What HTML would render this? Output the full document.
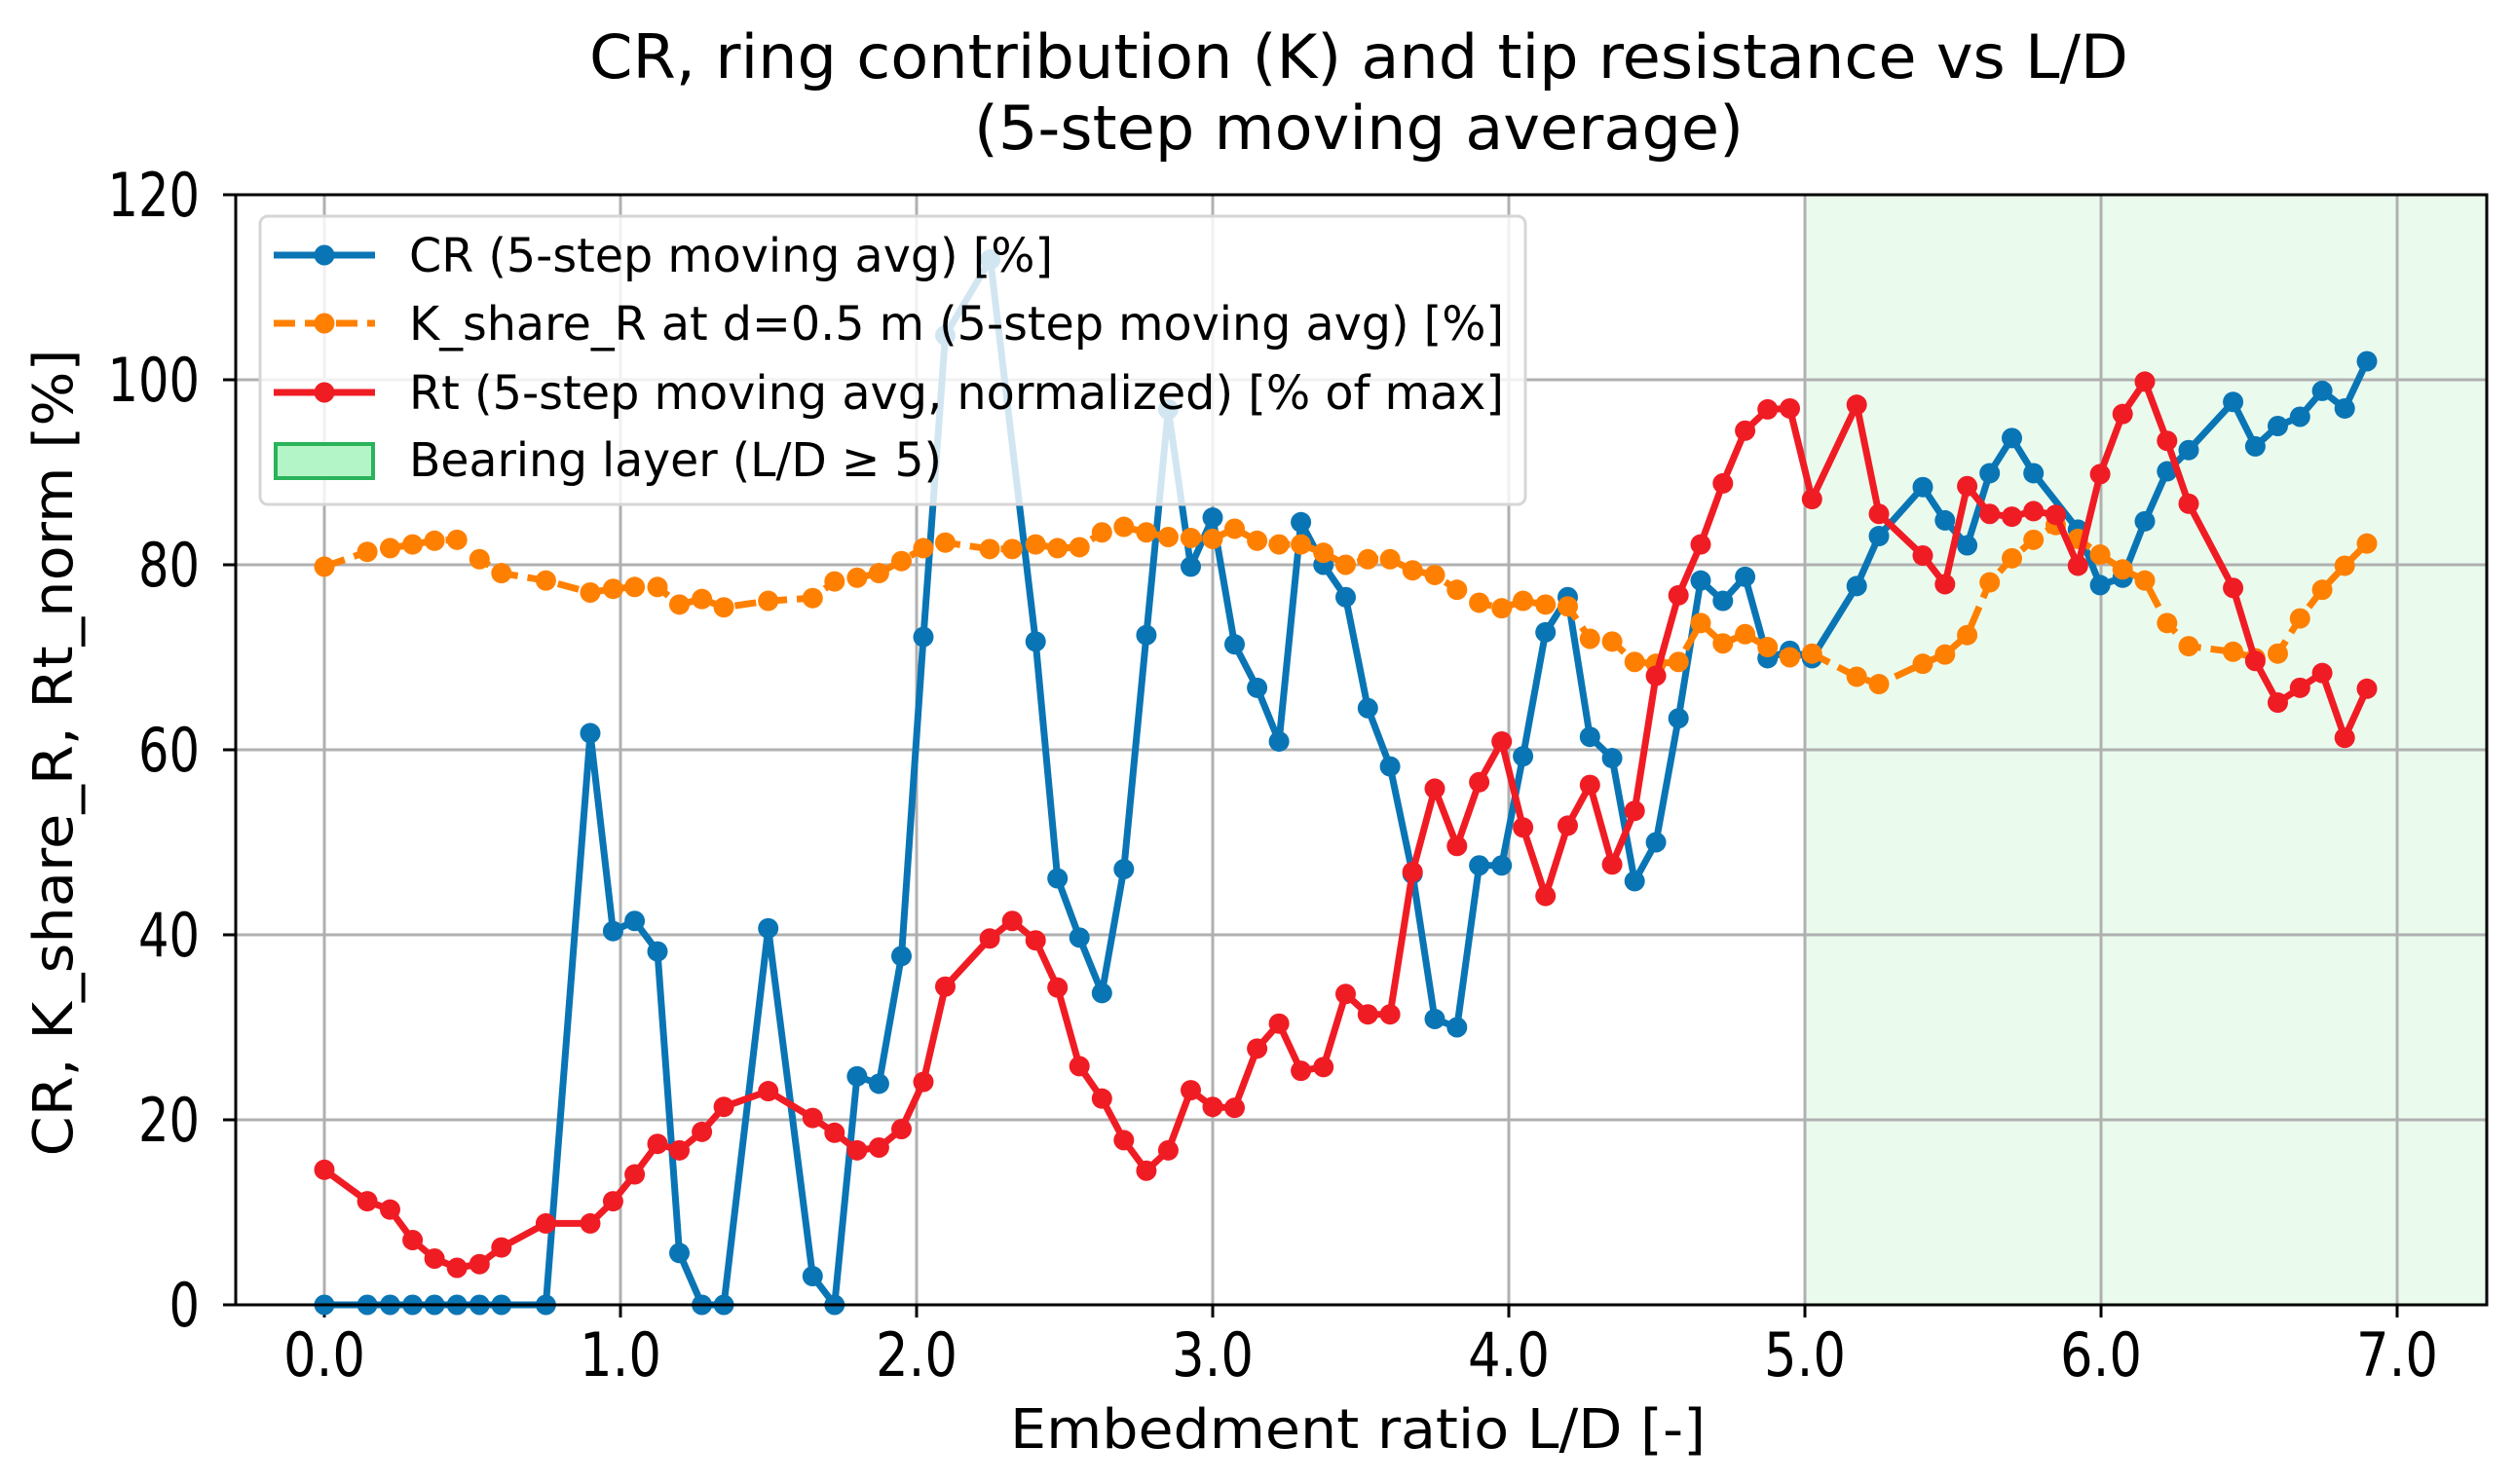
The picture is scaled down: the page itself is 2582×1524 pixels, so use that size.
<!DOCTYPE html>
<html><head><meta charset="utf-8"><style>
html,body{margin:0;padding:0;background:#fff;}
svg{display:block;font-family:"DejaVu Sans","Liberation Sans",sans-serif;}
</style></head><body>
<svg id="chart" width="2582" height="1524" viewBox="0 0 2582 1524"></svg>
<script>
const xTicks=[0,1,2,3,4,5,6,7];
const xTickLabels=["0.0","1.0","2.0","3.0","4.0","5.0","6.0","7.0"];
const yTicks=[0,20,40,60,80,100,120];
const yTickLabels=["0","20","40","60","80","100","120"];
const bearingStart=5;
const crX=[0,0.145,0.222,0.298,0.372,0.448,0.524,0.598,0.748,0.898,0.975,1.048,1.125,1.199,1.275,1.349,1.499,1.649,1.723,1.799,1.873,1.949,2.023,2.097,2.249,2.402,2.476,2.55,2.626,2.7,2.776,2.85,2.926,3.0,3.074,3.15,3.224,3.298,3.374,3.449,3.524,3.599,3.675,3.75,3.825,3.9,3.976,4.048,4.124,4.199,4.274,4.349,4.425,4.497,4.573,4.648,4.723,4.798,4.874,4.949,5.024,5.175,5.25,5.398,5.473,5.548,5.624,5.699,5.772,5.922,5.997,6.073,6.148,6.223,6.296,6.446,6.521,6.597,6.672,6.747,6.823,6.898];
const crY=[0,0,0,0,0,0,0,0,0,61.8,40.4,41.5,38.2,5.6,0,0,40.7,3.1,0,24.7,23.9,37.7,72.2,104.8,113,71.7,46.1,39.7,33.7,47.1,72.4,96.8,79.8,85.1,71.4,66.7,60.9,84.6,80,76.5,64.5,58.2,46.6,30.9,30.0,47.5,47.5,59.3,72.7,76.5,61.4,59.1,45.8,50,63.4,78.3,76.1,78.7,69.9,70.7,69.9,77.7,83.1,88.4,84.8,82.1,89.9,93.7,89.9,83.8,77.8,78.6,84.7,90.1,92.4,97.6,92.8,95,96,98.8,96.9,102];
const kX=[0,0.145,0.222,0.298,0.372,0.448,0.524,0.598,0.748,0.898,0.975,1.048,1.125,1.199,1.275,1.349,1.499,1.649,1.723,1.799,1.873,1.949,2.023,2.097,2.247,2.323,2.402,2.476,2.55,2.626,2.7,2.776,2.85,2.926,3.0,3.074,3.15,3.224,3.298,3.374,3.449,3.524,3.599,3.675,3.75,3.825,3.9,3.976,4.048,4.124,4.199,4.274,4.349,4.425,4.497,4.573,4.648,4.723,4.798,4.874,4.949,5.024,5.175,5.25,5.398,5.473,5.548,5.624,5.699,5.772,5.847,5.922,5.997,6.073,6.148,6.223,6.296,6.446,6.521,6.597,6.672,6.747,6.823,6.898];
const kY=[79.8,81.4,81.8,82.2,82.6,82.7,80.6,79.1,78.3,77,77.4,77.6,77.6,75.7,76.3,75.4,76.1,76.4,78.2,78.6,79.1,80.4,81.8,82.4,81.7,81.7,82.2,81.8,81.9,83.5,84.1,83.5,83,82.9,82.8,83.9,82.6,82.2,82.2,81.3,80,80.6,80.6,79.4,78.9,77.3,75.9,75.3,76.1,75.7,75.5,72,71.7,69.5,69.3,69.5,73.7,71.5,72.5,71.1,70,70.4,67.9,67.1,69.3,70.3,72.4,78.1,80.7,82.7,84.3,82.8,81.1,79.5,78.3,73.7,71.2,70.6,69.9,70.4,74.2,77.3,79.9,82.3];
const rtX=[0,0.145,0.222,0.298,0.372,0.448,0.524,0.598,0.748,0.898,0.975,1.048,1.125,1.199,1.275,1.349,1.499,1.649,1.723,1.799,1.873,1.949,2.023,2.097,2.247,2.323,2.402,2.476,2.55,2.626,2.7,2.776,2.85,2.926,3.0,3.074,3.15,3.224,3.298,3.374,3.449,3.524,3.599,3.675,3.75,3.825,3.9,3.976,4.048,4.124,4.199,4.274,4.349,4.425,4.497,4.573,4.648,4.723,4.798,4.874,4.949,5.024,5.175,5.25,5.398,5.473,5.548,5.624,5.699,5.772,5.847,5.922,5.997,6.073,6.148,6.223,6.296,6.446,6.521,6.597,6.672,6.747,6.823,6.898];
const rtY=[14.6,11.2,10.3,7,5,4,4.4,6.2,8.8,8.8,11.2,14.1,17.4,16.7,18.7,21.4,23.1,20.2,18.6,16.7,17,19,24.1,34.4,39.6,41.5,39.4,34.3,25.8,22.3,17.8,14.5,16.7,23.2,21.4,21.3,27.7,30.4,25.3,25.7,33.6,31.4,31.4,46.8,55.8,49.6,56.5,60.9,51.6,44.2,51.8,56.2,47.6,53.4,68,76.7,82.2,88.8,94.5,96.8,96.9,87.1,97.3,85.5,81,77.9,88.5,85.5,85.2,85.8,85.4,79.9,89.8,96.3,99.8,93.4,86.6,77.5,69.6,65.1,66.7,68.3,61.3,66.6];

const NS="http://www.w3.org/2000/svg";
const svg=document.getElementById('chart');
const L=242,R=2553,T=200,B=1340;
const X0=333,XU=304;
function sx(v){return X0+v*XU;}
function sy(v){return B-(v/120)*(B-T);}
function mk(tag,attrs,parent){const e=document.createElementNS(NS,tag);for(const k in attrs)e.setAttribute(k,attrs[k]);(parent||svg).appendChild(e);return e;}

const t1=mk('text',{x:1395,y:80,'font-size':62,'text-anchor':'middle',textLength:1580,lengthAdjust:'spacingAndGlyphs',fill:'#000'});
t1.textContent='CR, ring contribution (K) and tip resistance vs L/D';


const t2=mk('text',{x:1395,y:153,'font-size':62,'text-anchor':'middle',textLength:790,lengthAdjust:'spacingAndGlyphs',fill:'#000'});
t2.textContent='(5-step moving average)';



const shade=mk('rect',{x:sx(bearingStart),y:T,width:R-sx(bearingStart),height:B-T,fill:'#eafbee'});



xTicks.forEach((v,i)=>{
  const g=mk('line',{x1:sx(v),x2:sx(v),y1:T,y2:B,stroke:'#b0b0b0','stroke-width':3});
  
  
  const tk=mk('line',{x1:sx(v),x2:sx(v),y1:B,y2:B+13,stroke:'#000','stroke-width':3});
  
  
  const tl=mk('text',{x:sx(v),y:1413,'font-size':62,'text-anchor':'middle',textLength:84,lengthAdjust:'spacingAndGlyphs',fill:'#000'});
  tl.textContent=xTickLabels[i];
  
  
});
yTicks.forEach((v,i)=>{
  const g=mk('line',{x1:L,x2:R,y1:sy(v),y2:sy(v),stroke:'#b0b0b0','stroke-width':3});
  
  
  const tk=mk('line',{x1:L-13,x2:L,y1:sy(v),y2:sy(v),stroke:'#000','stroke-width':3});
  
  
  const lab=yTickLabels[i];
  const tl=mk('text',{x:205,y:sy(v)+22,'font-size':62,'text-anchor':'end',textLength:lab.length*31.5,lengthAdjust:'spacingAndGlyphs',fill:'#000'});
  tl.textContent=lab;
  
  
});

function series(xs,ys,color,dash,name){
  const g=mk('g',{});
  
  
  const pts=xs.map((x,i)=>sx(x).toFixed(1)+','+sy(ys[i]).toFixed(1)).join(' ');
  const attrs={points:pts,fill:'none',stroke:color,'stroke-width':7,'stroke-linejoin':'round'};
  if(dash)attrs['stroke-dasharray']=dash;
  const pl=mk('polyline',attrs,g);
  
  
  xs.forEach((x,i)=>{
    const c=mk('circle',{cx:sx(x),cy:sy(ys[i]),r:10.5,fill:color},g);
    
    
  });
}
series(crX,crY,'#0a75b5',null,'cr-series');
series(kX,kY,'#ff8000','22,10','k-share-series');
series(rtX,rtY,'#f01c24',null,'rt-series');

const fr=mk('rect',{x:L,y:T,width:R-L,height:B-T,fill:'none',stroke:'#000','stroke-width':3});



const lg=mk('g',{});


const lb=mk('rect',{x:267,y:222,width:1299,height:296,rx:8,fill:'#fff','fill-opacity':0.82,stroke:'#d6d6d6','stroke-width':3},lg);


const entries=[
  {y:262,c:'#0a75b5',d:null,t:'CR (5-step moving avg) [%]',w:661,n:'legend-entry-cr'},
  {y:332,c:'#ff8000',d:'22,10',t:'K_share_R at d=0.5 m (5-step moving avg) [%]',w:1124,n:'legend-entry-k-share'},
  {y:403,c:'#f01c24',d:null,t:'Rt (5-step moving avg, normalized) [% of max]',w:1124,n:'legend-entry-rt'}
];
entries.forEach(e=>{
  const g=mk('g',{},lg);
  
  
  const a={x1:281,x2:385,y1:e.y,y2:e.y,stroke:e.c,'stroke-width':7};
  if(e.d)a['stroke-dasharray']=e.d;
  mk('line',a,g);
  mk('circle',{cx:333,cy:e.y,r:10.5,fill:e.c},g);
  const tx=mk('text',{x:420,y:e.y+17,'font-size':48,textLength:e.w,lengthAdjust:'spacingAndGlyphs',fill:'#000'},g);
  tx.textContent=e.t;
});
const gb=mk('g',{},lg);


mk('rect',{x:283,y:456,width:100,height:35,fill:'#b4f5c8',stroke:'#2ab35a','stroke-width':4},gb);
const bt=mk('text',{x:420,y:489,'font-size':48,textLength:547,lengthAdjust:'spacingAndGlyphs',fill:'#000'},gb);
bt.textContent='Bearing layer (L/D ≥ 5)';

const xl=mk('text',{x:1394,y:1487,'font-size':56,'text-anchor':'middle',textLength:714,lengthAdjust:'spacingAndGlyphs',fill:'#000'});
xl.textContent='Embedment ratio L/D [-]';


const yl=mk('text',{x:0,y:0,'font-size':56,'text-anchor':'middle',textLength:829,lengthAdjust:'spacingAndGlyphs',fill:'#000',transform:'translate(74,773) rotate(-90)'});
yl.textContent='CR, K_share_R, Rt_norm [%]';


</script>
</body></html>
